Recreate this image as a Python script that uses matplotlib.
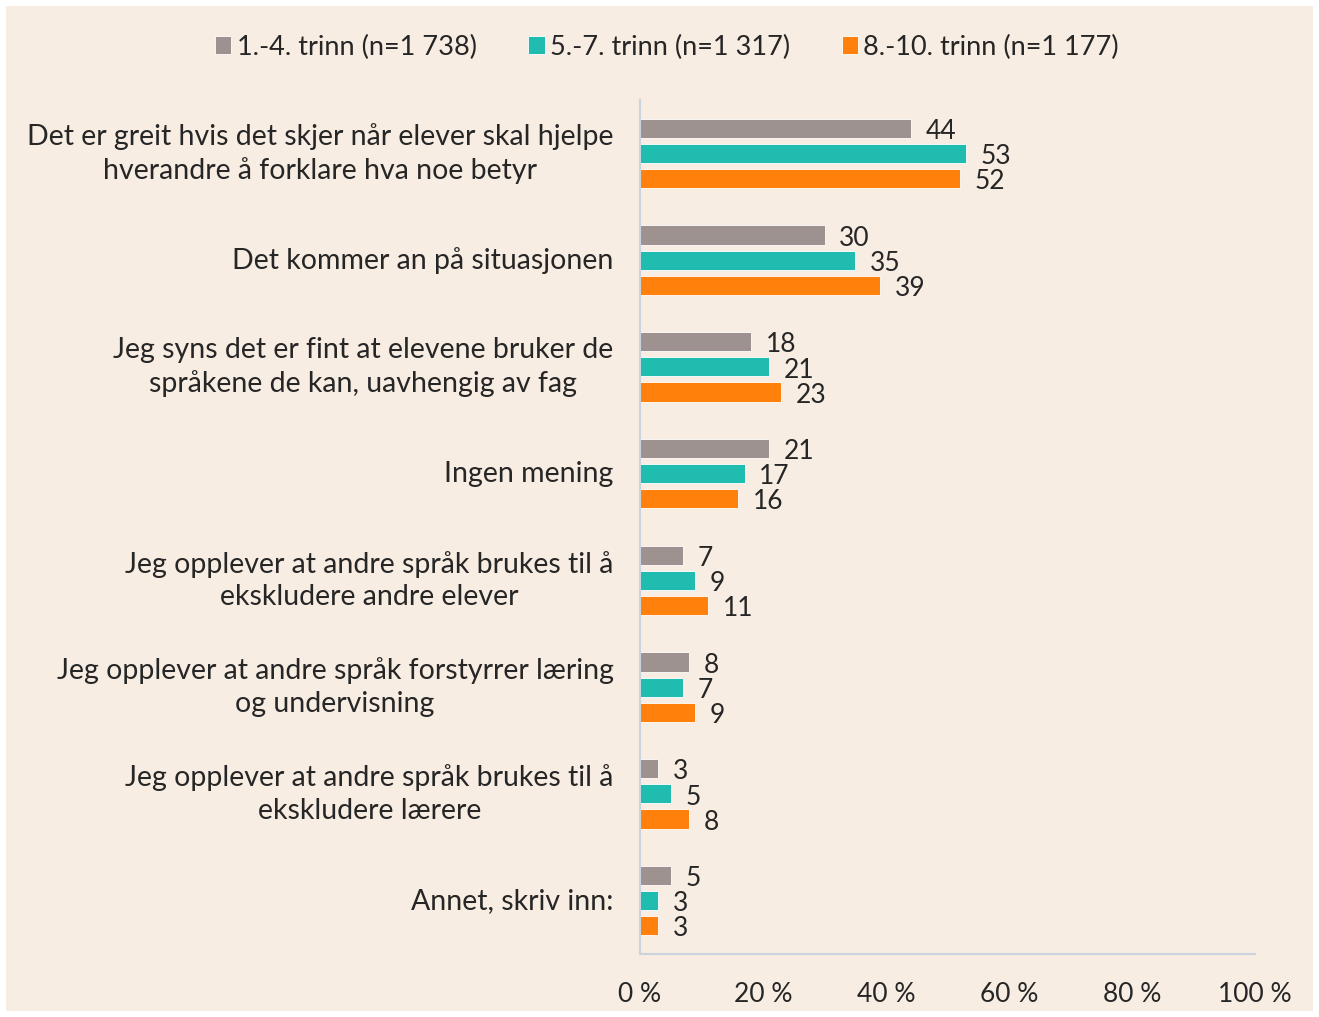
import numpy as np
import matplotlib.pyplot as plt
from matplotlib.patches import Rectangle

categories = [
    "Det er greit hvis det skjer når elever skal hjelpe\nhverandre å forklare hva noe betyr",
    "Det kommer an på situasjonen",
    "Jeg syns det er fint at elevene bruker de\nspråkene de kan, uavhengig av fag",
    "Ingen mening",
    "Jeg opplever at andre språk brukes til å\nekskludere andre elever",
    "Jeg opplever at andre språk forstyrrer læring\nog undervisning",
    "Jeg opplever at andre språk brukes til å\nekskludere lærere",
    "Annet, skriv inn:",
]
series_names = ["1.-4. trinn (n=1 738)", "5.-7. trinn (n=1 317)", "8.-10. trinn (n=1 177)"]
trinn_1_4 = [44, 30, 18, 21, 7, 8, 3, 5]
trinn_5_7 = [53, 35, 21, 17, 9, 7, 5, 3]
trinn_8_10 = [52, 39, 23, 16, 11, 9, 8, 3]
colors = ["#9E9291", "#21BCB0", "#FF800A"]
x_ticks = [0, 20, 40, 60, 80, 100]

bg = "#F8EDE3"
txt = "#262626"
plt.rcParams['font.family'] = ['Lato', 'DejaVu Sans']

fig = plt.figure(figsize=(13.19, 10.17), dpi=100)
fig.patch.set_facecolor("white")
fig.patches.append(Rectangle((6 / 1319, 6 / 1017), 1 - 12 / 1319, 1 - 12 / 1017,
                             transform=fig.transFigure, facecolor=bg, edgecolor="none", zorder=-5))

ax = fig.add_axes([640 / 1319, 1 - 954 / 1017, 615 / 1319, 854 / 1017])
ax.patch.set_alpha(0)

n = len(categories)
y = np.arange(n)
h = 0.18
step = 0.235
all_series = [trinn_1_4, trinn_5_7, trinn_8_10]
for i, (vals, c, name) in enumerate(zip(all_series, colors, series_names)):
    pos = y + (i - 1) * step
    ax.barh(pos, vals, height=h, color=c, edgecolor="#FFFFFF", linewidth=0.6, label=name)
    for p, v in zip(pos, vals):
        ax.text(v + 2.4, p + 0.03, str(v), va="center", ha="left", fontsize=19, color=txt)

ax.set_ylim(n - 0.5, -0.5)
ax.set_xlim(0, 100)
ax.set_yticks(y)
ax.set_yticklabels(categories, fontsize=20.5, color=txt, linespacing=1.3,
                   multialignment="center", va="center")
ax.set_xticks(x_ticks)
ax.set_xticklabels([f"{t} %" for t in x_ticks], fontsize=19, color=txt)
ax.tick_params(axis="both", length=0)
ax.tick_params(axis="y", pad=19)
ax.tick_params(axis="x", pad=20)
for s in ["top", "right"]:
    ax.spines[s].set_visible(False)
for s in ["left", "bottom"]:
    ax.spines[s].set_color("#C9D3DE")
    ax.spines[s].set_linewidth(1.5)

leg = fig.legend(loc="center", bbox_to_anchor=(667 / 1319, 1 - 47 / 1017), ncol=3, frameon=False,
                 fontsize=19.5, handlelength=0.6, handleheight=0.6, handletextpad=0.2, columnspacing=1.9)
for t in leg.get_texts():
    t.set_color(txt)

fig.savefig("out.png", dpi=100, facecolor="white")
